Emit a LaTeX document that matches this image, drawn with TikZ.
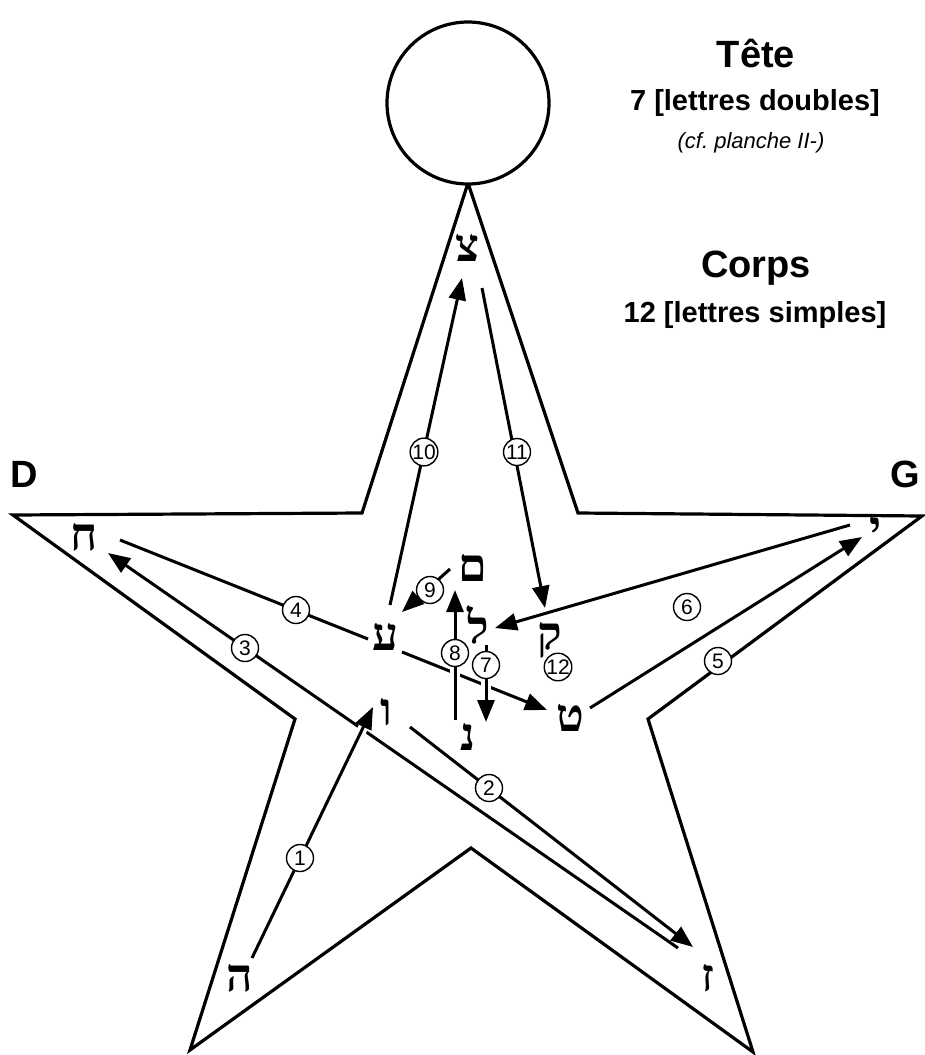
\documentclass[tikz,border=0pt]{standalone}
\usepackage{fontspec}
\setmainfont{Liberation Sans}
\newfontfamily\heb[Script=Hebrew]{Liberation Serif}
\usetikzlibrary{arrows.meta}
\begin{document}
\begin{tikzpicture}[x=1pt,y=-1pt,
  starline/.style={line width=3.2pt,line join=miter},
  arr/.style={line width=3pt,-{Triangle[length=22pt,width=17pt]}},
  plain/.style={line width=3pt},
  halo/.style={preaction={draw,white,line width=10pt,shorten >=14pt,shorten <=2pt,-}},
  num/.style={circle,draw,line width=1.4pt,fill=white,minimum size=27pt,inner sep=0pt,font=\fontsize{21}{21}\selectfont},
  letter/.style={inner sep=0pt,font=\heb\bfseries\fontsize{46}{46}\selectfont},
  big/.style={font=\bfseries\fontsize{38}{38}\selectfont,inner sep=0pt,anchor=base},
  mid/.style={font=\bfseries\fontsize{29}{29}\selectfont,inner sep=0pt,anchor=base}]
\useasboundingbox (0,0) rectangle (924,1055);
\fill[white] (0,0) rectangle (924,1055);
% star
\draw[starline] (468,183) -- (578,513) -- (922,516) -- (648,719) -- (753,1052) -- (471,848) -- (190,1050) -- (295,719) -- (13,515) -- (362,513) -- cycle;
\draw[starline,fill=white] (468,103) circle (81);
% texts
\node[big] (tete) at (756,67) {Tête};
\node[mid] (doubles) at (755,110) {7 [lettres doubles]};
\node[font=\itshape\fontsize{22}{22}\selectfont,inner sep=0pt,anchor=base] (cf) at (751,148) {(cf.\ planche II-)};
\node[big] (corps) at (756,277) {Corps};
\node[mid] (simples) at (755,322) {12 [lettres simples]};
\node[big] (D) at (24,487) {D};
\node[big] (G) at (905,487) {G};
% letters
\node[letter] (tsadi) at (468,248) {צ};
\node[letter] (het) at (84,537) {ח};
\node[letter] (yod) at (876,530) {י};
\node[letter] (ayin) at (386,637) {ע};
\node[letter] (mem) at (473,568) {ם};
\node[letter] (lamed) at (478,625) {ל};
\node[letter] (qof) at (550,640) {ק};
\node[letter] (tet) at (570,718) {ט};
\node[letter] (vav) at (386,712) {ו};
\node[letter] (nun) at (468,737) {נ};
\node[letter] (he) at (240,978) {ה};
\node[letter] (zayin) at (708,978) {ז};
% connector end points
\coordinate (a1s) at (252,958); \coordinate (a1e) at (373,707);
\coordinate (a2s) at (410,727); \coordinate (a2e) at (693,947);
\coordinate (a3s) at (678,948); \coordinate (a3e) at (108,553);
\coordinate (a4s) at (120,540); \coordinate (a4m) at (368,639);
\coordinate (a4n) at (402,652); \coordinate (a4e) at (547,710);
\coordinate (a5s) at (590,708); \coordinate (a5e) at (862,537);
\coordinate (a6s) at (850,525); \coordinate (a6e) at (495,628);
\coordinate (a7s) at (486,645); \coordinate (a7e) at (486,722);
\coordinate (a8s) at (455,720); \coordinate (a8e) at (455,590);
\coordinate (a9s) at (450,569); \coordinate (a9e) at (402,612);
\coordinate (a10s) at (390,605); \coordinate (a10e) at (462,278);
\coordinate (a11s) at (482,288); \coordinate (a11e) at (545,608);
\draw[arr] (a3s) -- (a3e);
\draw[plain] (a4s) -- (a4m);
\draw[arr] (a4n) -- (a4e);
\draw[arr,halo] (a1s) -- (a1e);
\draw[arr] (a2s) -- (a2e);
\draw[arr] (a5s) -- (a5e);
\draw[arr] (a6s) -- (a6e);
\draw[arr,halo] (a7s) -- (a7e);
\draw[arr,halo] (a8s) -- (a8e);
\draw[arr] (a9s) -- (a9e);
\draw[arr] (a10s) -- (a10e);
\draw[arr] (a11s) -- (a11e);
% numbers
\node[num] (n1) at (300,858) {1};
\node[num] (n2) at (489,788) {2};
\node[num] (n3) at (245,648) {3};
\node[num] (n4) at (296,610) {4};
\node[num] (n5) at (718,661) {5};
\node[num] (n6) at (687,607) {6};
\node[num] (n7) at (486,665) {7};
\node[num] (n8) at (455,653) {8};
\node[num] (n9) at (430,590) {9};
\node[num] (n10) at (424,452) {10};
\node[num] (n11) at (517,452) {11};
\node[num] (n12) at (558,667) {12};
\end{tikzpicture}
\end{document}
